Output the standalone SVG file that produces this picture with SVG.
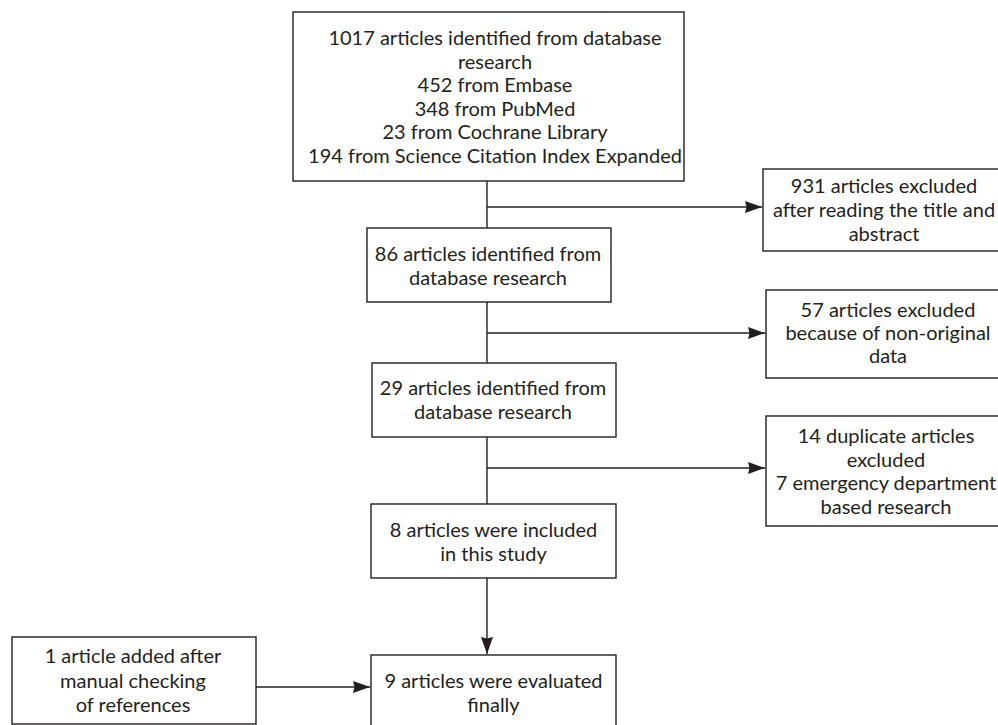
<svg xmlns="http://www.w3.org/2000/svg" width="998" height="725" viewBox="0 0 998 725">
<style>
  .box { fill: #ffffff; stroke: #231f20; stroke-width: 1.4; }
  .lbl { font-family: Lato, "Liberation Sans", sans-serif; font-size: 20px; fill: #231f20; text-anchor: middle; }
  .con { stroke: #231f20; stroke-width: 1.4; fill: none; }
  .arr { marker-end: url(#ah); }
</style>
<defs>
  <marker id="ah" markerUnits="userSpaceOnUse" markerWidth="18" markerHeight="13" refX="17" refY="6.5" orient="auto">
    <path d="M0,0.5 L17,6.5 L0,12.5 L1.5,6.5 Z" fill="#231f20"/>
  </marker>
</defs>
<rect width="998" height="725" fill="#ffffff"/>

<g id="connectors">
  <line class="con" x1="487" y1="181" x2="487" y2="228"/>
  <line class="con" x1="487" y1="302" x2="487" y2="363"/>
  <line class="con" x1="487" y1="437" x2="487" y2="504"/>
  <line class="con arr" x1="487" y1="578" x2="487" y2="654"/>
  <line class="con arr" x1="487" y1="207" x2="762" y2="207"/>
  <line class="con arr" x1="487" y1="333" x2="765" y2="333"/>
  <line class="con arr" x1="487" y1="468" x2="765" y2="468"/>
  <line class="con arr" x1="256" y1="687" x2="370" y2="687"/>
</g>

<g id="n1017">
  <rect class="box" x="293" y="12" width="391" height="169"/>
  <text class="lbl" x="495" y="45">1017 articles identified from database</text>
  <text class="lbl" x="495" y="68.5">research</text>
  <text class="lbl" x="495" y="92">452 from Embase</text>
  <text class="lbl" x="495" y="115.5">348 from PubMed</text>
  <text class="lbl" x="495" y="139">23 from Cochrane Library</text>
  <text class="lbl" x="495" y="162.5">194 from Science Citation Index Expanded</text>
</g>

<g id="n931">
  <rect class="box" x="763" y="169" width="250" height="82"/>
  <text class="lbl" x="884" y="193">931 articles excluded</text>
  <text class="lbl" x="884" y="217">after reading the title and</text>
  <text class="lbl" x="884" y="241">abstract</text>
</g>

<g id="n86">
  <rect class="box" x="367" y="228" width="244" height="74"/>
  <text class="lbl" x="488" y="261">86 articles identified from</text>
  <text class="lbl" x="488" y="284.5">database research</text>
</g>

<g id="n57">
  <rect class="box" x="766" y="290" width="250" height="88"/>
  <text class="lbl" x="888" y="317">57 articles excluded</text>
  <text class="lbl" x="888" y="340">because of non-original</text>
  <text class="lbl" x="888" y="363">data</text>
</g>

<g id="n29">
  <rect class="box" x="372" y="363" width="244" height="74"/>
  <text class="lbl" x="493" y="395">29 articles identified from</text>
  <text class="lbl" x="493" y="418.5">database research</text>
</g>

<g id="n14">
  <rect class="box" x="766" y="416" width="250" height="110"/>
  <text class="lbl" x="886" y="443">14 duplicate articles</text>
  <text class="lbl" x="886" y="466.5">excluded</text>
  <text class="lbl" x="886" y="490">7 emergency department</text>
  <text class="lbl" x="886" y="513.5">based research</text>
</g>

<g id="n8">
  <rect class="box" x="371" y="504" width="245" height="74"/>
  <text class="lbl" x="493.5" y="537">8 articles were included</text>
  <text class="lbl" x="493.5" y="561">in this study</text>
</g>

<g id="n9">
  <rect class="box" x="371" y="655" width="245" height="80"/>
  <text class="lbl" x="493.5" y="688">9 articles were evaluated</text>
  <text class="lbl" x="493.5" y="712">finally</text>
</g>

<g id="n1">
  <rect class="box" x="12" y="637" width="244" height="87"/>
  <text class="lbl" x="133" y="663">1 article added after</text>
  <text class="lbl" x="133" y="687.5">manual checking</text>
  <text class="lbl" x="133" y="712">of references</text>
</g>
</svg>
